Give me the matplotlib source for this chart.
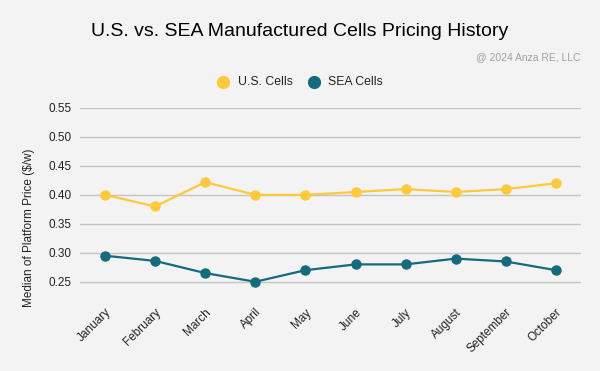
import numpy as np
from matplotlib import pyplot as plt

plt.rcParams['font.family'] = ['Liberation Sans', 'DejaVu Sans']

months = ['January', 'February', 'March', 'April', 'May', 'June',
          'July', 'August', 'September', 'October']
us_cells = [0.40, 0.38, 0.422, 0.40, 0.40, 0.405, 0.41, 0.405, 0.41, 0.42]
sea_cells = [0.295, 0.286, 0.265, 0.25, 0.27, 0.28, 0.28, 0.29, 0.285, 0.27]
yticks = [0.25, 0.30, 0.35, 0.40, 0.45, 0.50, 0.55]

bg = '#f3f3f3'
us_col = '#ffc93c'
sea_col = '#136b7b'

fig = plt.figure(figsize=(6, 3.71), dpi=100, facecolor=bg)
ax = fig.add_axes([0.1333, 0.1968, 0.835, 0.5121], facecolor=bg)

x = np.arange(len(months))
ax.plot(x, us_cells, color=us_col, lw=1.6, marker='o', ms=6.5, zorder=3)
ax.plot(x, sea_cells, color=sea_col, lw=1.6, marker='o', ms=6.5, zorder=3)

ax.set_xlim(-0.5, len(months) - 0.5)
ax.set_ylim(0.222, 0.55)
ax.set_yticks(yticks)
ax.set_yticklabels(['{:.2f}'.format(v) for v in yticks], fontsize=8.5, color='#222222')
ax.set_xticks(x)
ax.set_xticklabels(months, rotation=45, ha='right', rotation_mode='anchor',
                   fontsize=8.5, color='#222222')
ax.tick_params(length=0, pad=6)
ax.grid(axis='y', color='#c4c4c4', lw=1)
ax.set_axisbelow(True)
for s in ax.spines.values():
    s.set_visible(False)
ax.set_ylabel('Median of Platform Price ($/w)', fontsize=8.5, color='#222222')
ax.yaxis.set_label_coords(-0.09, 0.368)

fig.text(0.5, 0.916, 'U.S. vs. SEA Manufactured Cells Pricing History',
         ha='center', va='center', fontsize=14, color='black')
fig.text(0.967, 1 - 57 / 371, '@ 2024 Anza RE, LLC', ha='right', va='center',
         fontsize=7.5, color='#a0a0a0')

# legend
ly = 1 - 82 / 371
fig.add_artist(plt.Line2D([0.372], [ly], marker='o', ms=8.5, color=us_col,
                          transform=fig.transFigure))
fig.text(0.396, ly, 'U.S. Cells', ha='left', va='center', fontsize=8.8, color='#222222')
fig.add_artist(plt.Line2D([0.523], [ly], marker='o', ms=8.5, color=sea_col,
                          transform=fig.transFigure))
fig.text(0.546, ly, 'SEA Cells', ha='left', va='center', fontsize=8.8, color='#222222')

plt.savefig('out.png', dpi=100, facecolor=bg)
